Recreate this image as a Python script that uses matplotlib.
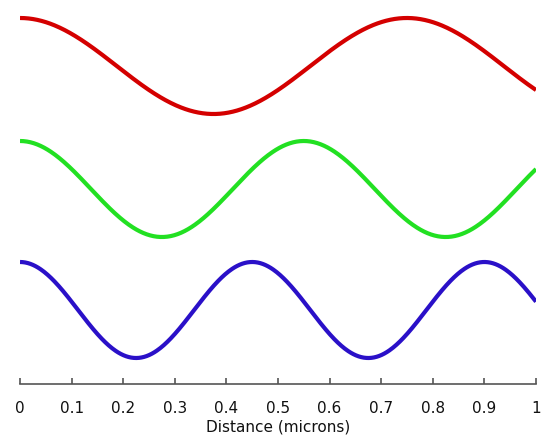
import numpy as np
import matplotlib.pyplot as plt

# wavelengths (microns): red, green, blue
wavelengths = [0.75, 0.55, 0.45]
colors = ['#d40000', '#22e022', '#2a10c8']
tick_vals = [0, 0.1, 0.2, 0.3, 0.4, 0.5, 0.6, 0.7, 0.8, 0.9, 1]
tick_labels = ['0', '0.1', '0.2', '0.3', '0.4', '0.5', '0.6', '0.7', '0.8', '0.9', '1']

# vertical layout (in pixel-ish units)
centers = [-66, -189, -310]
amp = 48

fig = plt.figure(figsize=(5.5, 4.41), dpi=100)
ax = fig.add_axes([20/550, (441-384)/441, 516/550, 384/441])

x = np.linspace(0, 1, 600)
for wl, c, yc in zip(wavelengths, colors, centers):
    ax.plot(x, yc + amp*np.cos(2*np.pi*x/wl), color=c, lw=3.0, solid_capstyle='butt')

ax.set_xlim(0, 1)
ax.set_ylim(-384, 0)
for s in ['top', 'left', 'right']:
    ax.spines[s].set_visible(False)
ax.spines['bottom'].set_color('#555555')
ax.spines['bottom'].set_linewidth(1.2)
ax.set_yticks([])
ax.set_xticks(tick_vals)
ax.set_xticklabels(tick_labels)
ax.tick_params(axis='x', direction='in', length=4, width=1.2, color='#555555',
               pad=12, labelsize=11, labelcolor='#111111')
ax.set_xlabel('Distance (microns)', fontsize=11, color='#111111', labelpad=3)

fig.savefig('out.png', dpi=100)
